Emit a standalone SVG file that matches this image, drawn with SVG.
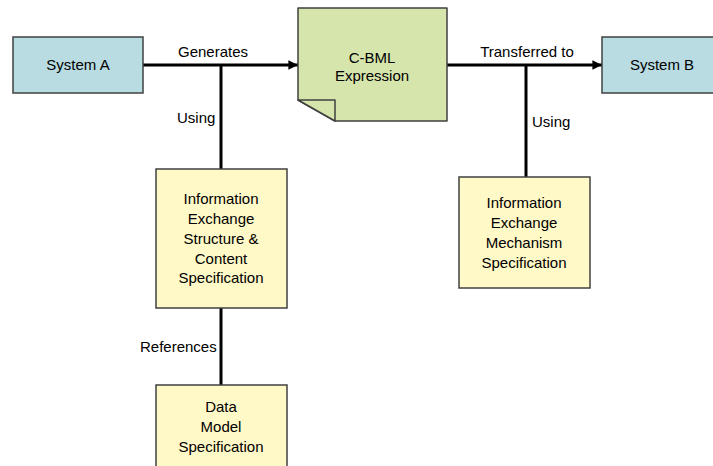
<svg xmlns="http://www.w3.org/2000/svg" width="713" height="466" viewBox="0 0 713 466">
  <defs>
    <marker id="arrow" viewBox="0 0 10 10" refX="10" refY="5" markerWidth="3.2" markerHeight="3.2" orient="auto" markerUnits="strokeWidth">
      <path d="M0,0 L10,5 L0,10 Z" fill="#000"/>
    </marker>
  </defs>
  <style>
    text { font-family: "Liberation Sans", Arial, sans-serif; font-size: 15px; fill: #000; }
    .mid { text-anchor: middle; }
    .sys { fill: #B8DCE2; stroke: #404040; stroke-width: 1.5; }
    .spec { fill: #FFF9C8; stroke: #404040; stroke-width: 1.5; }
    .doc { fill: #D6E5AC; stroke: #404040; stroke-width: 1.5; stroke-linejoin: round; }
    .wire { stroke: #000; stroke-width: 3; fill: none; }
  </style>

  <rect width="713" height="466" fill="#fff"/>

  <!-- connectors and their labels -->
  <g id="connectors">
    <line class="wire" x1="143" y1="65" x2="298" y2="65" marker-end="url(#arrow)"/>
    <line class="wire" x1="221" y1="65" x2="221" y2="169"/>
    <line class="wire" x1="447" y1="65" x2="602" y2="65" marker-end="url(#arrow)"/>
    <line class="wire" x1="526" y1="65" x2="526" y2="177"/>
    <line class="wire" x1="221" y1="308" x2="221" y2="385"/>
    <text class="mid" x="213" y="57">Generates</text>
    <text x="177" y="123">Using</text>
    <text class="mid" x="527" y="57">Transferred to</text>
    <text x="532" y="127">Using</text>
    <text x="140" y="352">References</text>
  </g>

  <g id="system-a">
    <rect class="sys" x="13" y="37" width="130" height="56"/>
    <text class="mid" x="78" y="70">System A</text>
  </g>

  <!-- document shape with folded bottom-left corner -->
  <g id="cbml-expression">
    <path class="doc" d="M298,8 H447 V121 H335 L298,100 Z"/>
    <path class="doc" d="M298,100 H335 V121 Z"/>
    <text class="mid" x="372" y="63">C-BML</text>
    <text class="mid" x="372" y="81">Expression</text>
  </g>

  <g id="system-b">
    <rect class="sys" x="602" y="37" width="121" height="56"/>
    <text class="mid" x="662" y="70">System B</text>
  </g>

  <g id="ie-structure-spec">
    <rect class="spec" x="156" y="169" width="131" height="139"/>
    <text class="mid" x="221" y="204">Information</text>
    <text class="mid" x="221" y="224">Exchange</text>
    <text class="mid" x="221" y="244">Structure &amp;</text>
    <text class="mid" x="221" y="264">Content</text>
    <text class="mid" x="221" y="283">Specification</text>
  </g>

  <g id="ie-mechanism-spec">
    <rect class="spec" x="459" y="177" width="131" height="111"/>
    <text class="mid" x="524" y="208">Information</text>
    <text class="mid" x="524" y="228">Exchange</text>
    <text class="mid" x="524" y="248">Mechanism</text>
    <text class="mid" x="524" y="268">Specification</text>
  </g>

  <g id="data-model-spec">
    <rect class="spec" x="156" y="385" width="131" height="90"/>
    <text class="mid" x="221" y="412">Data</text>
    <text class="mid" x="221" y="432">Model</text>
    <text class="mid" x="221" y="452">Specification</text>
  </g>
</svg>
